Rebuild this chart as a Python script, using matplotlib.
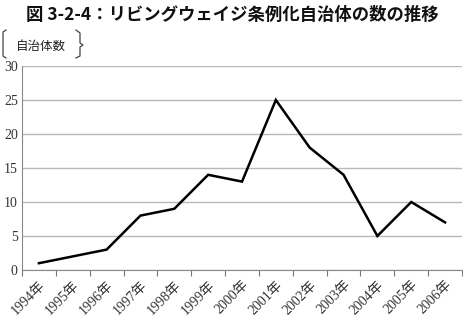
import numpy as np
import matplotlib
matplotlib.use('Agg')
import matplotlib.pyplot as plt
from matplotlib.lines import Line2D

years = ['1994年', '1995年', '1996年', '1997年', '1998年', '1999年', '2000年',
         '2001年', '2002年', '2003年', '2004年', '2005年', '2006年']
counts = [1, 2, 3, 8, 9, 14, 13, 25, 18, 14, 5, 10, 7]
yticks = [0, 5, 10, 15, 20, 25, 30]

title = '図 3-2-4：リビングウェイジ条例化自治体の数の推移'
ylab = '自治体数'

serif = ['Liberation Serif', 'Noto Sans CJK JP']
cjk = ['Noto Sans CJK JP', 'DejaVu Sans']

W, H = 464, 322
fig = plt.figure(figsize=(W / 100, H / 100), dpi=100)
# axes in pixel terms: left 22, right 462, top 66, bottom 270
ax = fig.add_axes([22 / W, 1 - 270 / H, 440 / W, 204 / H])

x = np.arange(len(years))
ax.plot(x, counts, color='black', lw=1.8, solid_joinstyle='miter')

ax.set_xlim(-0.5, len(years) - 0.5)
ax.set_ylim(0, 30)
ax.set_yticks(yticks)
ax.set_yticklabels([str(v) for v in yticks], family=serif, fontsize=10, color='#333333')
ax.yaxis.grid(True, color='#b8b8b8', lw=1)
ax.set_axisbelow(True)

# ticks at category boundaries, labels at category centres
ax.set_xticks(np.arange(len(years) + 1) - 0.5)
ax.set_xticklabels([])
ax.set_xticks(x, minor=True)
ax.set_xticklabels(years, minor=True, rotation=45, ha='right', va='top',
                   rotation_mode='anchor', family=serif, fontsize=10, color='#333333')
ax.tick_params(axis='x', which='major', direction='out', length=4, color='#777777')
ax.tick_params(axis='x', which='minor', length=0, pad=6)
ax.tick_params(axis='y', direction='in', length=0, pad=3)

for s in ['top', 'right']:
    ax.spines[s].set_visible(False)
ax.spines['left'].set_color('#888888')
ax.spines['bottom'].set_color('#888888')

fig.text(232 / W, 1 - 15 / H, title, ha='center', va='center',
         family=cjk, fontsize=12.5, fontweight='bold', color='#111111')
fig.text(16 / W, 1 - 46 / H, ylab, ha='left', va='center',
         family=cjk, fontsize=9, color='#222222')

# brackets around the axis title
def px(xs, ys):
    return [v / W for v in xs], [1 - v / H for v in ys]

bx, by = px([6, 3, 3, 6], [30, 32, 56, 58])
fig.add_artist(Line2D(bx, by, color='#444444', lw=0.9))
bx, by = px([76, 80, 80, 83, 80, 80, 76], [30, 33, 43, 45, 47, 56, 58])
fig.add_artist(Line2D(bx, by, color='#444444', lw=0.9))

fig.savefig('out.png', dpi=100)
